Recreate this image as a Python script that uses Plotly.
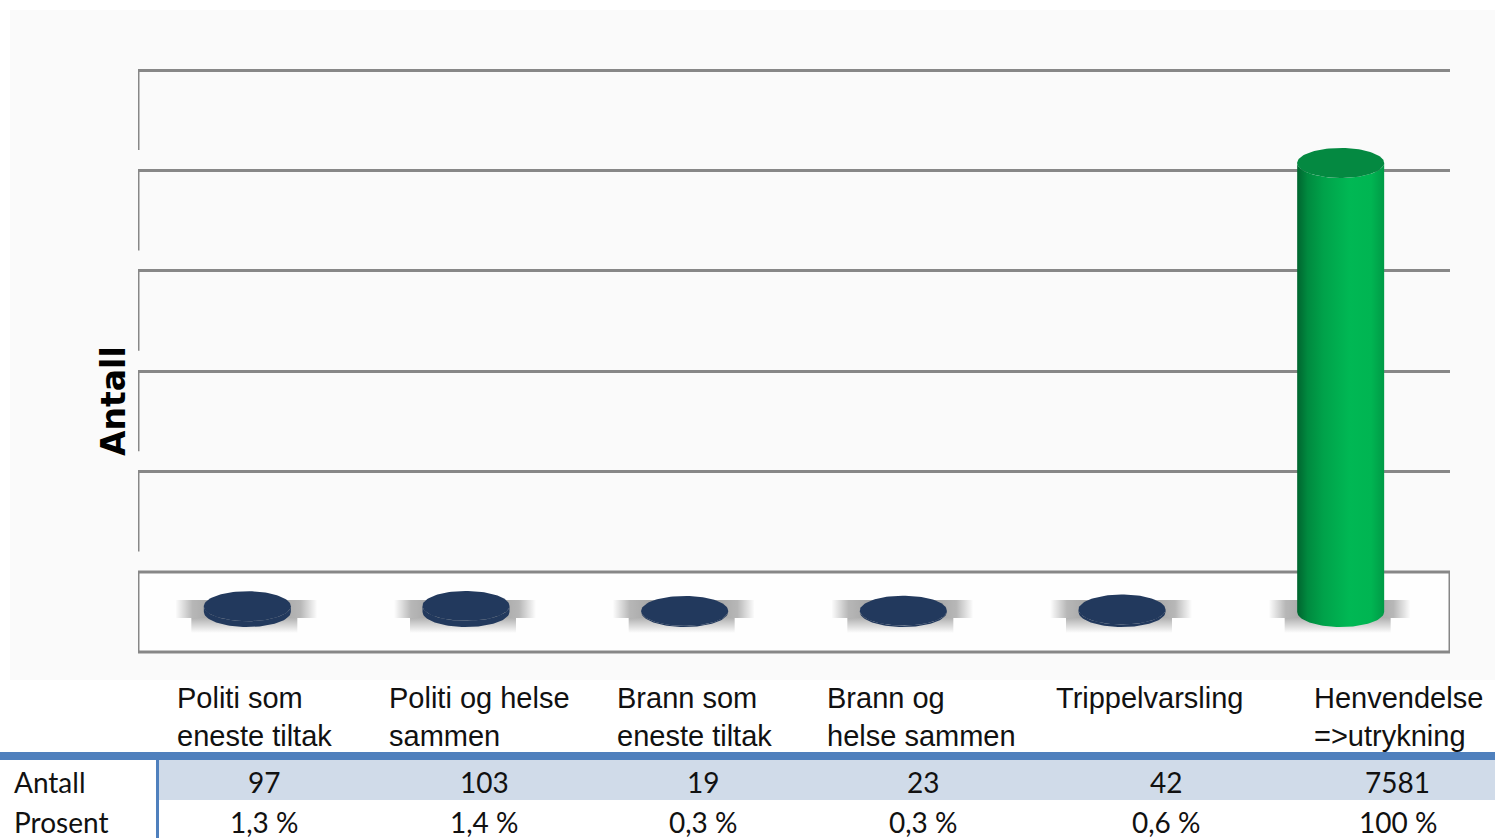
import numpy as np
import plotly.graph_objects as go

# data
categories = [
    "Politi som<br>eneste tiltak",
    "Politi og helse<br>sammen",
    "Brann som<br>eneste tiltak",
    "Brann og<br>helse sammen",
    "Trippelvarsling",
    "Henvendelse<br>=>utrykning",
]
antall = [97, 103, 19, 23, 42, 7581]
prosent = ["1,3 %", "1,4 %", "0,3 %", "0,3 %", "0,6 %", "100 %"]
row_labels = ["Antall", "Prosent"]
grid_vals = [0, 2000, 4000, 6000, 8000, 10000]
highlight = [False, False, False, False, False, True]

W, H = 1495, 838


def fx(px):
    return px / W


def fy(py):
    return 1 - py / H


# pixel layout of the 3d plot box
X0, X1 = 138, 1450          # left / right wall
TOP, BOT = 60, 656          # axis domain
BACK0 = 572                 # back edge of floor (value 0 on wall)
MID0 = 612                  # bar base (floor centre depth)
DEPTH = 80                  # floor depth in px
GRID_PX = 100.4             # px between wall gridlines (per 2000)
BAR_PX = 449 / 7581         # px per unit for bars

n = len(categories)
xpx = (X1 - X0) / n                     # px per category
grid_u = 2000 / GRID_PX                 # wall units per px
bar_u = 1 / BAR_PX                      # bar units per px

fig = go.Figure()

# floor of the 3d box (wall axis y)
fl_x = [-0.5, n - 0.5, n - 0.5, -0.5, -0.5]
fl_y = [0, 0, -DEPTH * grid_u, -DEPTH * grid_u, 0]
fig.add_trace(go.Scatter(x=fl_x, y=fl_y, mode="lines", fill="toself",
                         fillcolor="#fefefe", line=dict(color="#878787", width=3),
                         cliponaxis=False, hoverinfo="skip", showlegend=False))

# side wall edges
sx, sy = [], []
for g in grid_vals[1:]:
    sx += [-0.5, -0.5, None]
    sy += [g, g - DEPTH * grid_u, None]
fig.add_trace(go.Scatter(x=sx, y=sy, mode="lines",
                         line=dict(color="#878787", width=3), cliponaxis=False,
                         hoverinfo="skip", showlegend=False))


# soft shadows behind each bar (bar axis y2)
def band(c, l, r, b, t):
    return ([c + l / xpx, c + r / xpx, c + r / xpx, c + l / xpx, c + l / xpx],
            [b * bar_u, b * bar_u, t * bar_u, t * bar_u, b * bar_u])


for i in range(n):
    bx, by = band(i, -72, 70, -6, 12)
    fig.add_trace(go.Scatter(x=bx, y=by, yaxis="y2", mode="lines", fill="toself",
                             fillgradient=dict(type="horizontal", colorscale=[
                                 [0, "rgba(0,0,0,0)"], [0.12, "rgba(0,0,0,0.28)"],
                                 [0.5, "rgba(0,0,0,0.45)"], [0.88, "rgba(0,0,0,0.28)"],
                                 [1, "rgba(0,0,0,0)"]]),
                             line=dict(width=0), hoverinfo="skip", showlegend=False))
    bx, by = band(i, -56, 50, -21, -6)
    fig.add_trace(go.Scatter(x=bx, y=by, yaxis="y2", mode="lines", fill="toself",
                             fillgradient=dict(type="vertical", colorscale=[
                                 [0, "rgba(0,0,0,0)"], [1, "rgba(0,0,0,0.3)"]]),
                             line=dict(width=0), hoverinfo="skip", showlegend=False))

# cylinders
w = 43.5 / xpx
h = 15 * bar_u
t_bot = np.linspace(np.pi, 2 * np.pi, 50)
t_top = np.linspace(2 * np.pi, np.pi, 50)
t_all = np.linspace(0, 2 * np.pi, 100)
for i, v in enumerate(antall):
    bx = np.concatenate([i + w * np.cos(t_bot), i + w * np.cos(t_top)])
    by = np.concatenate([h * np.sin(t_bot), v + h * np.sin(t_top)])
    if highlight[i]:
        body = dict(fillgradient=dict(type="horizontal", colorscale=[
            [0, "#00652f"], [0.12, "#008a3f"], [0.3, "#00a24a"],
            [0.6, "#00b854"], [0.85, "#00b552"], [1, "#009a46"]]))
        top_col = "#048941"
    else:
        body = dict(fillcolor="#22395d")
        top_col = "#22395d"
    fig.add_trace(go.Scatter(x=bx, y=by, yaxis="y2", mode="lines", fill="toself",
                             line=dict(width=0), hoverinfo="skip", showlegend=False, **body))
    fig.add_trace(go.Scatter(x=i + w * np.cos(t_all), y=v + h * np.sin(t_all), yaxis="y2",
                             mode="lines", fill="toself", fillcolor=top_col,
                             line=dict(width=0), hoverinfo="skip", showlegend=False))

fig.update_layout(
    width=W, height=H,
    margin=dict(l=0, r=0, t=0, b=0),
    paper_bgcolor="white",
    plot_bgcolor="rgba(0,0,0,0)",
    xaxis=dict(domain=[fx(X0), fx(X1)], range=[-0.5, n - 0.5], visible=False),
    yaxis=dict(domain=[fy(BOT), fy(TOP)],
               range=[-(BOT - BACK0) * grid_u, (BACK0 - TOP) * grid_u],
               tickvals=grid_vals, showticklabels=False, ticks="",
               showgrid=True, gridcolor="#878787", gridwidth=3,
               zeroline=False, showline=False),
    yaxis2=dict(domain=[fy(BOT), fy(TOP)], overlaying="y",
                range=[-(BOT - MID0) * bar_u, (MID0 - TOP) * bar_u], visible=False),
    showlegend=False,
)

# chart area background and table decoration
fig.add_shape(type="rect", xref="paper", yref="paper", x0=fx(10), x1=1, y0=fy(680), y1=fy(10),
              fillcolor="#fafafa", line=dict(width=0), layer="below")
fig.add_shape(type="rect", xref="paper", yref="paper", x0=0, x1=1, y0=fy(760), y1=fy(752),
              fillcolor="#4f80bd", line=dict(width=0))
fig.add_shape(type="rect", xref="paper", yref="paper", x0=fx(159), x1=1, y0=fy(800), y1=fy(760),
              fillcolor="#d0dbe9", line=dict(width=0))
fig.add_shape(type="rect", xref="paper", yref="paper", x0=fx(156), x1=fx(159), y0=0, y1=fy(760),
              fillcolor="#4f80bd", line=dict(width=0))

# axis title
fig.add_annotation(text="<b>Antall</b>", textangle=-90, xref="paper", yref="paper",
                   x=fx(113), y=fy(401), xanchor="center", yanchor="middle", showarrow=False,
                   font=dict(family="DejaVu Sans", size=33, color="#000"))

# table text
col_edges = [158, 370, 598, 808, 1037, 1295, 1500]
for i in range(n):
    fig.add_annotation(text=categories[i], xref="paper", yref="paper",
                       x=fx(col_edges[i] + 17), y=fy(680), xanchor="left", yanchor="top",
                       align="left", showarrow=False,
                       font=dict(family="Liberation Sans, Arial", size=29, color="#111"))
    cx = (col_edges[i] + col_edges[i + 1]) / 2
    for val, yy in [(str(antall[i]), 782), (prosent[i], 822)]:
        fig.add_annotation(text=val, xref="paper", yref="paper", x=fx(cx), y=fy(yy),
                           xanchor="center", yanchor="middle", showarrow=False,
                           font=dict(family="Lato", size=28, color="#111"))
for lab, yy in zip(row_labels, [782, 822]):
    fig.add_annotation(text=lab, xref="paper", yref="paper", x=fx(12), y=fy(yy),
                       xanchor="left", yanchor="middle", showarrow=False,
                       font=dict(family="Lato", size=28, color="#111"))

fig.write_html("out.html", config={"displayModeBar": False},
               post_script="document.body.style.margin='0';")
